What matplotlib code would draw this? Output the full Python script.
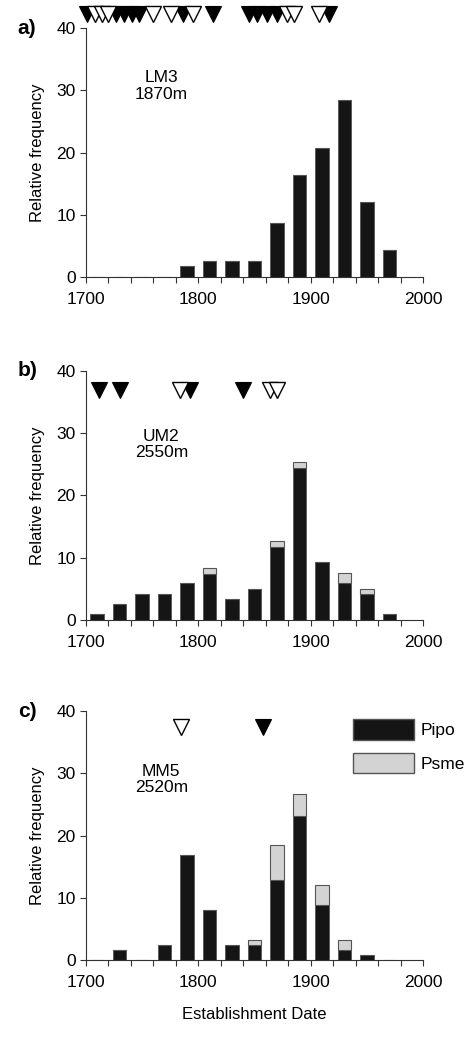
import matplotlib.pyplot as plt
from matplotlib.ticker import MultipleLocator
from matplotlib.patches import Patch

plt.rcParams['font.family'] = ['Liberation Sans', 'DejaVu Sans']

# bin centres (20-yr classes)
years = [1710, 1730, 1750, 1770, 1790, 1810, 1830, 1850, 1870, 1890, 1910, 1930, 1950, 1970]

# a) LM3
lm3_pipo = [0, 0, 0, 0, 1.7, 2.6, 2.6, 2.6, 8.7, 16.4, 20.7, 28.5, 12.1, 4.3]
lm3_psme = [0] * 14
lm3_filled = [1701, 1727, 1734, 1741, 1747, 1786, 1813, 1845, 1852, 1861, 1870, 1916]
lm3_open = [1708, 1714, 1720, 1760, 1776, 1795, 1879, 1885, 1907]

# b) UM2
um2_pipo = [0.9, 2.6, 4.25, 4.25, 5.9, 7.4, 3.4, 5.05, 11.7, 24.4, 9.3, 5.9, 4.1, 0.9]
um2_psme = [0, 0, 0, 0, 0, 1.0, 0, 0, 1.0, 1.0, 0, 1.6, 0.95, 0]
um2_filled = [1712, 1730, 1793, 1840]
um2_open = [1784, 1864, 1870]

# c) MM5
mm5_pipo = [0, 1.65, 0, 2.45, 16.95, 8.0, 2.45, 2.35, 12.8, 23.2, 8.8, 1.55, 0.8, 0]
mm5_psme = [0, 0, 0, 0, 0, 0, 0, 0.9, 5.7, 3.4, 3.3, 1.65, 0, 0]
mm5_filled = [1858]
mm5_open = [1785]

panels = [
    ("a)", "LM3\n1870m", lm3_pipo, lm3_psme, lm3_filled, lm3_open, 42.2, 30.7),
    ("b)", "UM2\n2550m", um2_pipo, um2_psme, um2_filled, um2_open, 36.9, 28.2),
    ("c)", "MM5\n2520m", mm5_pipo, mm5_psme, mm5_filled, mm5_open, 37.4, 29.0),
]
bottoms = [0.7331, 0.4027, 0.0751]

fig = plt.figure(figsize=(4.71, 10.38), dpi=100)

for (tag, site, pipo, psme, filled, opn, tri_y, txt_y), bot in zip(panels, bottoms):
    ax = fig.add_axes([0.1826, bot, 0.7155, 0.2399])
    ax.bar(years, pipo, width=12, color='#151515', edgecolor='#555555', linewidth=0.6,
           label='Pipo')
    ax.bar(years, psme, width=12, bottom=pipo, color='#d3d3d3', edgecolor='#555555',
           linewidth=0.8, label='Psme')
    ax.plot(filled, [tri_y] * len(filled), 'v', color='black', markersize=11.5,
            markeredgecolor='black', markeredgewidth=0.8, clip_on=False)
    ax.plot(opn, [tri_y] * len(opn), 'v', markerfacecolor='white', markersize=11.5,
            markeredgecolor='black', markeredgewidth=1.0, clip_on=False)

    ax.set_xlim(1700, 2000)
    ax.set_ylim(0, 40)
    ax.xaxis.set_major_locator(MultipleLocator(100))
    ax.xaxis.set_minor_locator(MultipleLocator(20))
    ax.yaxis.set_major_locator(MultipleLocator(10))
    for s in ['top', 'right']:
        ax.spines[s].set_visible(False)
    ax.spines['left'].set_color('#333333')
    ax.spines['bottom'].set_color('#333333')
    ax.tick_params(axis='both', which='both', direction='out', length=4,
                   width=0.8, color='#333333', labelsize=12.5)
    ax.tick_params(axis='x', pad=7)
    ax.set_ylabel('Relative frequency', fontsize=12, labelpad=8)

    ax.text(1767, txt_y, site, ha='center', va='center', fontsize=12.5,
            linespacing=1.1)
    ax.text(-0.175, 1.0, tag, transform=ax.transAxes, fontsize=15,
            fontweight='bold', ha='center', va='center')

    if tag == "c)":
        handles = [Patch(facecolor='#151515', edgecolor='#555555'),
                   Patch(facecolor='#d3d3d3', edgecolor='#555555')]
        ax.legend(handles, ['Pipo', 'Psme'], loc='upper right',
                  bbox_to_anchor=(1.17, 1.03), frameon=False, fontsize=12.5,
                  handlelength=3.5, handleheight=1.45, handletextpad=0.35,
                  labelspacing=0.75)
        ax.set_xlabel('Establishment Date', fontsize=12, labelpad=12)

fig.savefig('out.png', dpi=100)
